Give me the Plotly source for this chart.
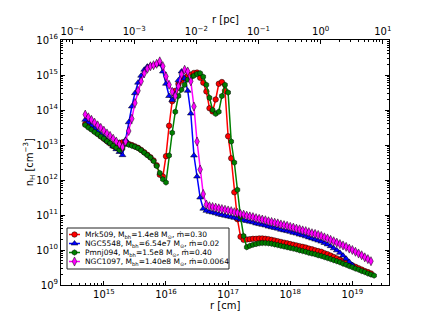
import numpy as np
import plotly.graph_objects as go

# log10 of radius in cm (sampling grid)
log_r = [14.70, 14.75, 14.80, 14.85, 14.90, 14.95, 15.00, 15.05, 15.10, 15.15,
         15.20, 15.25, 15.30, 15.35, 15.40, 15.45, 15.50, 15.55, 15.60, 15.65,
         15.70, 15.75, 15.80, 15.85, 15.90, 15.95, 16.00, 16.05, 16.10, 16.15,
         16.20, 16.25, 16.30, 16.35, 16.40, 16.45, 16.50, 16.55, 16.60, 16.65,
         16.70, 16.75, 16.80, 16.85, 16.90, 16.95, 17.00, 17.05, 17.10, 17.15,
         17.20, 17.25, 17.30, 17.35, 17.40, 17.45, 17.50, 17.55, 17.60, 17.65,
         17.70, 17.75, 17.80, 17.85, 17.90, 17.95, 18.00, 18.05, 18.10, 18.15,
         18.20, 18.25, 18.30, 18.35, 18.40, 18.45, 18.50, 18.55, 18.60, 18.65,
         18.70, 18.75, 18.80, 18.85, 18.90, 18.95, 19.00, 19.05, 19.10, 19.15,
         19.20, 19.25, 19.30, 19.35]

# log10 of n_H [cm^-3]
mrk509 = [13.60, 13.53, 13.46, 13.39, 13.32, 13.25, 13.18, 13.11, 13.04, 12.97, 12.92,
          13.06, 13.08, 13.06, 13.03, 13.00, 12.96, 12.92, 12.86, 12.79, 12.72, 12.65, 12.56, 12.42, 12.15, 12.10,
          12.68, 13.55, 14.25, 14.55, 14.74, 14.84, 14.91, 14.97, 15.01, 15.06, 15.07, 14.92, 14.78, 14.53, 14.05, 13.96, 14.30, 14.75, 14.80, 14.55,
          13.25, 12.62, 11.65, 10.88, 10.38, 10.29, 10.30, 10.31, 10.32, 10.32, 10.33, 10.33, 10.32, 10.31, 10.29, 10.27, 10.25, 10.23, 10.21, 10.19,
          10.17, 10.15, 10.13, 10.11, 10.09, 10.07, 10.04, 10.02, 9.99, 9.97, 9.95, 9.91, 9.88, 9.84, 9.80, 9.76, 9.72, 9.68, 9.64, 9.60,
          9.56, 9.52, 9.48, 9.44, 9.40, 9.37, 9.33]

ngc5548 = [13.72, 13.64, 13.55, 13.47, 13.38, 13.30, 13.22, 13.13, 13.05, 12.96, 12.88, 12.80, 12.71,
           13.15, 13.65, 14.10, 14.48, 14.78, 14.98, 15.15, 15.24, 15.27, 15.28, 15.30, 15.33, 15.10,
           14.75, 14.40, 14.28, 14.45, 14.85, 15.10, 14.90, 14.55, 13.90, 12.70, 12.10, 11.50, 11.18, 11.12, 11.09, 11.07, 11.05, 11.02, 11.00, 10.98,
           10.96, 10.94, 10.92, 10.90, 10.87, 10.85, 10.83, 10.81, 10.79, 10.76, 10.74, 10.72, 10.70, 10.67, 10.65, 10.63, 10.61, 10.58, 10.56, 10.54,
           10.52, 10.49, 10.47, 10.44, 10.42, 10.39, 10.36, 10.33, 10.30, 10.27, 10.24, 10.20, 10.16, 10.11, 10.05, 9.99, 9.92, 9.84, 9.75, 9.66,
           9.57]

pmnj094 = [13.57, 13.50, 13.44, 13.37, 13.31, 13.24, 13.18, 13.11, 13.05, 12.98, 12.92, 12.85,
           12.90, 13.03, 13.01, 12.98, 12.95, 12.91, 12.85, 12.78, 12.71, 12.64, 12.54, 12.40, 12.20, 12.02,
           11.93, 12.70, 13.35, 13.95, 14.40, 14.58, 14.72, 14.87, 14.93, 14.98, 15.03, 15.05, 14.95, 14.72, 14.35, 14.00, 13.89, 13.95, 14.40, 14.72,
           14.50, 13.10, 12.50, 11.72, 10.95, 10.40, 10.08, 10.12, 10.15, 10.17, 10.19, 10.20, 10.20, 10.19, 10.18, 10.16, 10.14, 10.12, 10.10, 10.08,
           10.06, 10.04, 10.02, 9.99, 9.97, 9.95, 9.92, 9.90, 9.88, 9.85, 9.83, 9.80, 9.77, 9.74, 9.71, 9.68, 9.65, 9.61, 9.58, 9.54,
           9.51, 9.47, 9.44, 9.40, 9.37, 9.33, 9.30, 9.27]

ngc1097 = [13.87, 13.79, 13.72, 13.64, 13.56, 13.49, 13.41, 13.33, 13.26, 13.18, 13.10, 13.02, 12.94,
           13.10, 13.40, 13.75, 14.20, 14.55, 14.82, 15.05, 15.18, 15.25, 15.28, 15.32, 15.39, 15.25,
           14.96, 14.72, 14.52, 14.40, 14.68, 15.02, 15.15, 15.10, 14.82, 14.10, 13.10, 12.30, 11.60, 11.30, 11.25, 11.23, 11.21, 11.19, 11.17, 11.15,
           11.13, 11.11, 11.08, 11.06, 11.03, 11.01, 10.98, 10.96, 10.94, 10.91, 10.89, 10.87, 10.85, 10.82, 10.80, 10.78, 10.76, 10.73, 10.71, 10.69,
           10.66, 10.64, 10.61, 10.59, 10.56, 10.54, 10.51, 10.48, 10.46, 10.43, 10.40, 10.36, 10.33, 10.29, 10.25, 10.21, 10.17, 10.13, 10.09, 10.04,
           10.00, 9.95, 9.90, 9.85, 9.79, 9.74, 9.68]

names = ["Mrk509, M<sub>bh</sub>=1.4e8 M<sub>⊙</sub>, ṁ=0.30",
         "NGC5548, M<sub>bh</sub>=6.54e7 M<sub>⊙</sub>, ṁ=0.02",
         "Pmnj094, M<sub>bh</sub>=1.5e8 M<sub>⊙</sub>, ṁ=0.40",
         "NGC1097, M<sub>bh</sub>=1.40e8 M<sub>⊙</sub>, ṁ=0.0064"]
series = [mrk509, ngc5548, pmnj094, ngc1097]
colors = ["#ff0000", "#0000ff", "#008000", "#ff00ff"]
symbols = ["circle", "triangle-up", "hexagon", "diamond-tall"]
msizes = [5.5, 6, 5.5, 6.5]

cm_ticks = [15, 16, 17, 18, 19]
pc_ticks = [-4, -3, -2, -1, 0, 1]
n_ticks = [9, 10, 11, 12, 13, 14, 15, 16]
PC = 3.0857e18

FONT = "DejaVu Sans"
fig = go.Figure()

for name, vals, c, s, ms in zip(names, series, colors, symbols, msizes):
    x = 10 ** np.array(log_r[:len(vals)])
    y = 10 ** np.array(vals)
    fig.add_trace(go.Scatter(x=x, y=y, mode="lines+markers", name=name,
                             line=dict(color=c, width=1.5),
                             marker=dict(symbol=s, size=ms, color=c,
                                         line=dict(color="black", width=0.5)),
                             showlegend=False))

# anchor trace so the top (pc) axis is drawn
fig.add_trace(go.Scatter(x=[1e-3], y=[1e12], xaxis="x2", yaxis="y", mode="markers",
                         marker=dict(opacity=0), hoverinfo="skip", showlegend=False))

# custom compact legend drawn in a pixel-like overlay axis
box_x = [59, 221, 221, 59, 59]
box_y = [220, 220, 261, 261, 220]
fig.add_trace(go.Scatter(x=box_x, y=box_y, xaxis="x3", yaxis="y3", mode="lines",
                         fill="toself", fillcolor="white",
                         line=dict(color="#222222", width=1), hoverinfo="skip",
                         showlegend=False))
rows = [226.5, 235.5, 244.5, 253.5]
for name, c, s, ms, ry in zip(names, colors, symbols, msizes, rows):
    fig.add_trace(go.Scatter(x=[61, 72], y=[ry, ry], xaxis="x3", yaxis="y3", mode="lines",
                             line=dict(color=c, width=1.5), hoverinfo="skip", showlegend=False))
    fig.add_trace(go.Scatter(x=[66.5], y=[ry], xaxis="x3", yaxis="y3", mode="markers",
                             marker=dict(symbol=s, size=ms, color=c,
                                         line=dict(color="black", width=0.5)),
                             hoverinfo="skip", showlegend=False))
    fig.add_annotation(x=75, y=ry, xref="x3", yref="y3", text=name, showarrow=False,
                       xanchor="left", yanchor="middle",
                       font=dict(family=FONT, size=7.5, color="black"))

common = dict(showline=True, linecolor="black", linewidth=1, ticks="inside",
              ticklen=4, tickcolor="black", showgrid=False, zeroline=False,
              tickfont=dict(family=FONT, size=10, color="black"),
              minor=dict(ticks="inside", ticklen=2, tickcolor="black",
                         tickmode="linear", dtick="D1", showgrid=False))

fig.update_layout(
    width=424, height=318,
    margin=dict(l=53, r=43, t=32, b=41),
    plot_bgcolor="white", paper_bgcolor="white",
    showlegend=False,
    font=dict(family=FONT, size=10, color="black"),
    xaxis=dict(type="log", range=[14.31, 19.59], tickmode="array",
               tickvals=[10.0 ** t for t in cm_ticks],
               ticktext=["10<sup>%d</sup>" % t for t in cm_ticks],
               anchor="y", **common),
    xaxis2=dict(type="log", overlaying="x", side="top", anchor="y",
                range=[14.31 - np.log10(PC), 19.59 - np.log10(PC)], tickmode="array",
                tickvals=[10.0 ** t for t in pc_ticks],
                ticktext=["10<sup>%s</sup>" % (str(t).replace("-", "−")) for t in pc_ticks],
                **common),
    yaxis=dict(type="log", range=[9, 16], tickmode="array",
               tickvals=[10.0 ** t for t in n_ticks],
               ticktext=["10<sup>%d</sup>" % t for t in n_ticks],
               mirror="ticks", anchor="x", **common),
    xaxis3=dict(overlaying="x", range=[53, 381], visible=False, anchor="y3"),
    yaxis3=dict(overlaying="y", range=[277, 32], visible=False, anchor="x3"),
)

fig.add_annotation(x=0.5, y=-0.082, xref="paper", yref="paper", text="r [cm]",
                   showarrow=False, xanchor="center", yanchor="middle",
                   font=dict(family=FONT, size=10))
fig.add_annotation(x=0.5, y=1.082, xref="paper", yref="paper", text="r [pc]",
                   showarrow=False, xanchor="center", yanchor="middle",
                   font=dict(family=FONT, size=10))
fig.add_annotation(x=-0.098, y=0.5, xref="paper", yref="paper",
                   text="n<sub>H</sub> [cm<sup>−3</sup>]", textangle=-90,
                   showarrow=False, xanchor="center", yanchor="middle",
                   font=dict(family=FONT, size=10))

fig.write_html("out.html")
